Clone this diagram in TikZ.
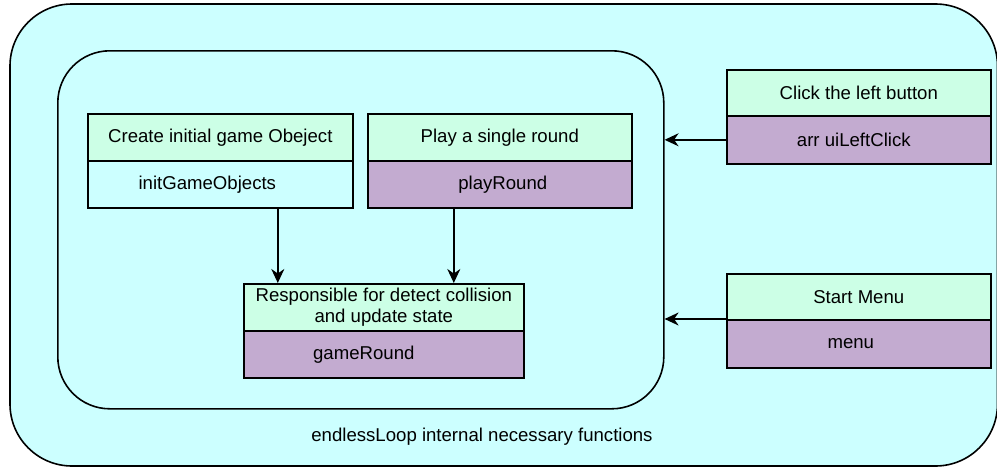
\documentclass[tikz,border=0pt]{standalone}
\usepackage{fontspec}
\setmainfont{Liberation Sans}
\usetikzlibrary{arrows.meta}
\definecolor{bgcyan}{HTML}{CCFFFF}
\definecolor{mint}{HTML}{CCFFE6}
\definecolor{lilac}{HTML}{C3ABD0}
\begin{document}
\begin{tikzpicture}[x=1pt,y=-1pt,
  font=\fontsize{18.6}{21.5}\selectfont,
  part/.style={draw=black, line width=1.6pt, anchor=north west, inner sep=0pt, align=center},
  head/.style={part, fill=mint},
  bodyc/.style={part, fill=bgcyan},
  bodyp/.style={part, fill=lilac},
  conn/.style={line width=1.6pt, -{Stealth[length=14pt,width=13pt,inset=4.5pt]}}]
\useasboundingbox (0,0) rectangle (997,469);
% outer container
\draw[line width=1.6pt, fill=bgcyan, rounded corners=62pt] (10,4) rectangle (997.5,466);
\node (loopname) at (482,437) {endlessLoop internal necessary functions};
% inner container
\node[draw, line width=1.6pt, rounded corners=52pt, anchor=north west, inner sep=0pt,
      minimum width=606pt, minimum height=358pt] (inner) at (57,50) {};
% box A
\node[head, minimum width=265pt, minimum height=47pt] (Ahead) at (87,113) {Create initial game Obeject};
\node[bodyc, minimum width=265pt, minimum height=47pt, label={[xshift=-13pt]center:initGameObjects}] (Abody) at (87,160) {};
% box B
\node[head, minimum width=264pt, minimum height=47pt] (Bhead) at (367,113) {Play a single round};
\node[bodyp, minimum width=264pt, minimum height=47pt, label={[xshift=3pt]center:playRound}] (Bbody) at (367,160) {};
% box C
\node[head, minimum width=280pt, minimum height=47pt] (Chead) at (243,283) {Responsible for detect collision\\and update state};
\node[bodyp, minimum width=280pt, minimum height=47pt, label={[xshift=-20pt]center:gameRound}] (Cbody) at (243,330) {};
% box D
\node[head, minimum width=264pt, minimum height=46pt] (Dhead) at (726,69) {Click the left button};
\node[bodyp, minimum width=264pt, minimum height=48pt, label={[xshift=-5pt]center:arr uiLeftClick}] (Dbody) at (726,115) {};
% box E
\node[head, minimum width=264pt, minimum height=46pt] (Ehead) at (726,273) {Start Menu};
\node[bodyp, minimum width=264pt, minimum height=48pt, label={[xshift=-8pt]center:menu}] (Ebody) at (726,319) {};
% connectors
\draw[conn] ([xshift=57.5pt]Abody.south) -- ([xshift=57.5pt]Abody.south |- Chead.north);
\draw[conn] ([xshift=-46pt]Bbody.south) -- ([xshift=-46pt]Bbody.south |- Chead.north);
\draw[conn] (Dbody.west) -- (Dbody.west -| inner.east);
\draw[conn] (Ebody.north west) -- (Ebody.north west -| inner.east);
\end{tikzpicture}
\end{document}
